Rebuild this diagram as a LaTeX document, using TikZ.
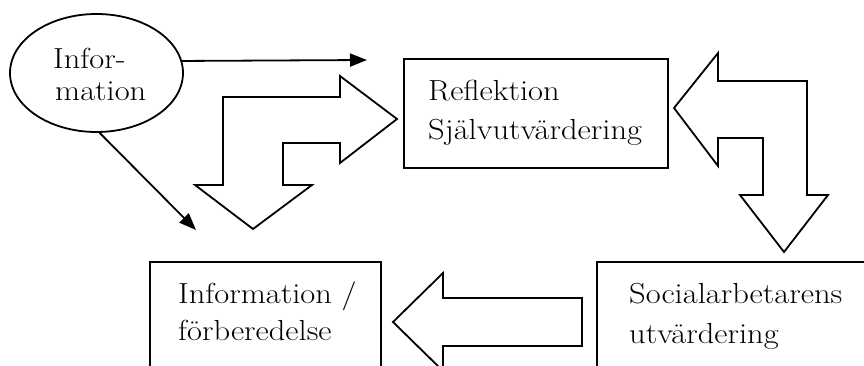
\documentclass[tikz,border=0pt]{standalone}
\usepackage{fontspec}
\setmainfont{Latin Modern Roman}[FakeStretch=1.12]
\usetikzlibrary{arrows.meta,shapes.geometric}
\begin{document}
\begin{tikzpicture}[x=1pt,y=-1pt,
  lw/.style={line width=1.8pt},
  box/.style={draw, lw, rectangle, anchor=north west, inner sep=0pt},
  txt/.style={anchor=base west, inner sep=0pt, font=\fontsize{29}{34}\selectfont},
  fat/.style={draw, lw, fill=white, line join=miter},
  thinarrow/.style={lw, -{Triangle[length=17pt,width=13pt]}}]
\useasboundingbox (0,0) rectangle (864,366);
\clip (0,0) rectangle (864,366);
% ellipse
\node[draw, lw, ellipse, minimum width=173pt, minimum height=118pt, inner sep=0pt] (info) at (96.5,73) {};
\node[txt] (t1) at (53,69) {Infor-};
\node[txt] (t2) at (55,101) {mation};
% boxes
\node[box, minimum width=264pt, minimum height=109pt] (refl) at (403,58) {};
\node[txt] (t3) at (428,101) {Reflektion};
\node[txt] (t4) at (428,140) {Självutvärdering};
\node[box, minimum width=300pt, minimum height=130pt] (soc) at (596,261) {};
\node[txt] (t5) at (629,303) {Socialarbetarens};
\node[txt] (t6) at (629,343) {utvärdering};
\node[box, minimum width=231pt, minimum height=130pt] (prep) at (149,261) {};
\node[txt] (t7) at (178,303) {Information /};
\node[txt] (t8) at (178,340) {förberedelse};
% fat arrows
\draw[fat] (397,119) -- (340,76) -- (340,97) -- (223,97) -- (223,185) -- (195,185) -- (253,229) -- (312,185) -- (283,185) -- (283,143) -- (340,143) -- (340,163) -- cycle;
\draw[fat] (674,108) -- (718,53) -- (718,81) -- (807,81) -- (807,195) -- (828,195) -- (784,252) -- (740,195) -- (763,195) -- (763,138) -- (718,138) -- (718,166) -- cycle;
\draw[fat] (393,322) -- (443,273) -- (443,298) -- (582,298) -- (582,346) -- (443,346) -- (443,371) -- cycle;
% thin arrows
\coordinate (e1) at (367,60);
\coordinate (e2) at (196,230);
\draw[thinarrow] (info.8.7) -- (e1);
\draw[thinarrow] (info.-87) -- (e2);
\end{tikzpicture}
\end{document}
